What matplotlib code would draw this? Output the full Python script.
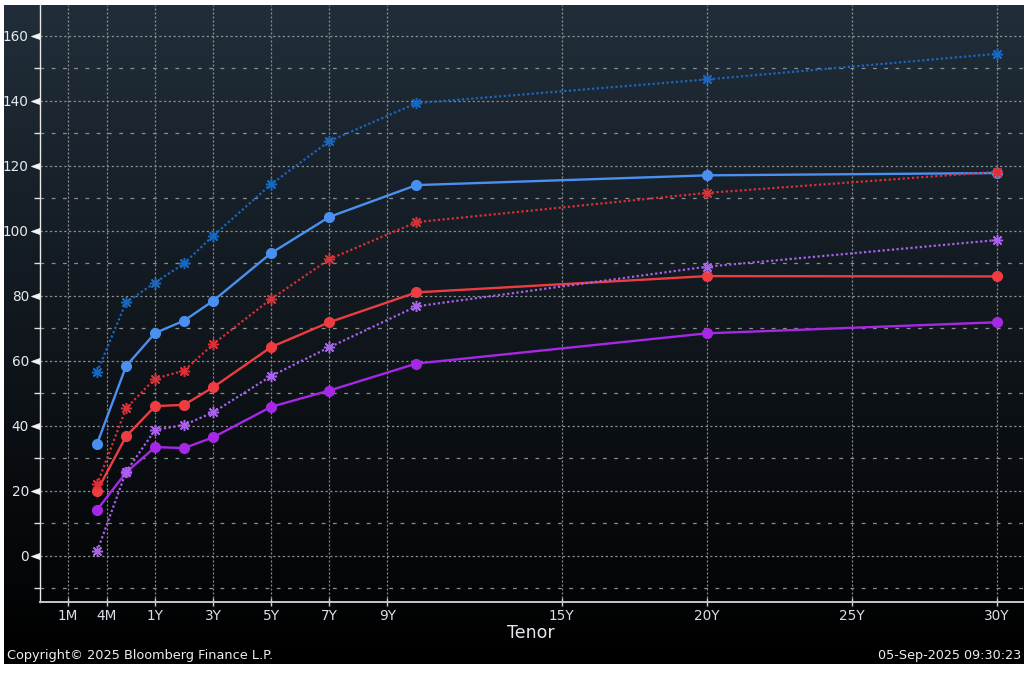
import numpy as np
import matplotlib
matplotlib.use('Agg')
import matplotlib.pyplot as plt
from matplotlib.path import Path

# ---------------- data ----------------
tenor_labels = ['3M', '6M', '1Y', '2Y', '3Y', '5Y', '7Y', '10Y', '20Y', '30Y']
tenor_years = [0.25, 0.5, 1, 2, 3, 5, 7, 10, 20, 30]

blue_dotted = [56.5, 77.9, 84.0, 89.9, 98.4, 114.3, 127.5, 139.2, 146.5, 154.4]
blue_solid = [34.4, 58.3, 68.5, 72.3, 78.4, 93.1, 104.2, 114.0, 117.0, 117.7]
red_dotted = [21.9, 45.3, 54.5, 56.9, 65.1, 79.0, 91.2, 102.6, 111.6, 118.1]
red_solid = [19.9, 36.7, 46.0, 46.4, 51.8, 64.2, 71.8, 81.0, 86.0, 85.9]
purple_dotted = [1.3, 25.8, 38.7, 40.2, 44.1, 55.3, 64.1, 76.7, 88.9, 97.1]
purple_solid = [14.1, 25.6, 33.4, 33.1, 36.4, 45.8, 50.8, 59.1, 68.4, 71.8]

xtick_labels = ['1M', '4M', '1Y', '3Y', '5Y', '7Y', '9Y', '15Y', '20Y', '25Y', '30Y']
xtick_years = [1 / 12, 1 / 3, 1, 3, 5, 7, 9, 15, 20, 25, 30]
ytick_values = list(range(0, 161, 20))
yminor_values = list(range(-10, 161, 20))

copyright_text = 'Copyright\u00a9 2025 Bloomberg Finance L.P.'
date_text = '05-Sep-2025 09:30:23'
x_title = 'Tenor'

# ---------------- tenor scale (Bloomberg style: short end stretched) ----------------
_T = np.array([-1 / 12, 1 / 12, 0.25, 0.5, 1.0, 60.0])
_U = np.array([-1.0, 0.0, 1.0, 2.0, 3.0, 62.0])


def fwd(t):
    return np.interp(np.asarray(t, dtype=float), _T, _U)


def inv(u):
    return np.interp(np.asarray(u, dtype=float), _U, _T)


W, H = 1024, 681
fig = plt.figure(figsize=(W / 100, H / 100), dpi=100, facecolor='white')
plt.rcParams['font.family'] = ['DejaVu Sans']

# background panel with vertical gradient
panel_l, panel_t, panel_r, panel_b = 4, 5, 1024, 664
bg = fig.add_axes([panel_l / W, 1 - panel_b / H, (panel_r - panel_l) / W, (panel_b - panel_t) / H])
n = 400
frac = np.linspace(0, 1, n)[:, None]
top = np.array([0x21, 0x2e, 0x3a]) / 255.0
grad = np.clip(top[None, :] * (1 - frac) ** 1.05, 0, 1)
grad = grad[:, None, :]
bg.imshow(grad, aspect='auto', extent=[0, 1, 0, 1], interpolation='bilinear')
bg.set_axis_off()

# main axes
ax_l, ax_t, ax_r, ax_b = 40, 5, 1024, 602
ax = fig.add_axes([ax_l / W, 1 - ax_b / H, (ax_r - ax_l) / W, (ax_b - ax_t) / H])
ax.set_facecolor('none')
ax.set_xscale('function', functions=(fwd, inv))
ax.set_xlim(float(inv(-0.965)), float(inv(32.93)))
ax.set_ylim(-14.25, 169.4)

# grid
gcol = '#8a8e92'
ax.set_xticks(xtick_years)
ax.set_xticklabels(xtick_labels)
ax.set_yticks(ytick_values)
ax.set_yticks(yminor_values, minor=True)
ax.xaxis.grid(True, which='major', color=gcol, linestyle=(0, (1.6, 1.6)), linewidth=0.9)
ax.yaxis.grid(True, which='major', color=gcol, linestyle=(0, (1.8, 2.0)), linewidth=0.9)
ax.yaxis.grid(True, which='minor', color=gcol, linestyle=(0, (3.0, 6.0)), linewidth=0.9)
ax.set_axisbelow(True)

# spines
for s in ['top', 'right']:
    ax.spines[s].set_visible(False)
ax.spines['left'].set_color('#e8e8e8')
ax.spines['left'].set_linewidth(1.0)
ax.spines['bottom'].set_color('#c8c8c8')
ax.spines['bottom'].set_linewidth(1.4)

ax.tick_params(axis='x', which='major', direction='inout', length=6, width=1.0,
               color='#d0d0d0', labelcolor='#d8e0ea', labelsize=9.8, pad=2)
ax.tick_params(axis='x', which='minor', length=0)
ax.tick_params(axis='y', which='major', direction='out', length=7, width=0.5,
               color='#f4f4f4', labelcolor='#e6eaee', labelsize=9.8, pad=1)
ax.tick_params(axis='y', which='minor', direction='out', length=4, width=1.0, color='#e0e0e0')
tri = Path([(0, -0.36), (0, 0.36), (-1, 0), (0, -0.36)],
           [Path.MOVETO, Path.LINETO, Path.LINETO, Path.CLOSEPOLY])
for t in ax.yaxis.get_major_ticks():
    t.tick1line.set_marker(tri)
    t.tick1line.set_markersize(13)

# series
solid_kw = dict(linestyle='-', linewidth=1.7, marker='o', markersize=7, zorder=3)
dot_kw = dict(linestyle=(0, (1, 1.1)), linewidth=1.6, marker=(8, 2, 0), markersize=8,
              markeredgewidth=1.1, zorder=4)

ax.plot(tenor_years, blue_solid, color='#4a90f0', **solid_kw)
ax.plot(tenor_years, red_solid, color='#ee3d42', **solid_kw)
ax.plot(tenor_years, purple_solid, color='#a628e6', **solid_kw)
ax.plot(tenor_years, blue_dotted, color='#1a67bf', **dot_kw)
ax.plot(tenor_years, red_dotted, color='#dc3036', **dot_kw)
ax.plot(tenor_years, purple_dotted, color='#a862ec', **dot_kw)

# texts
fig.text(531 / W, 1 - 633 / H, x_title, ha='center', va='center', fontsize=12.5, color='#e4e8ec')
fig.text(7 / W, 1 - 655 / H, copyright_text, ha='left', va='center', fontsize=9.3, color='#eeeeee')
fig.text(1021 / W, 1 - 655 / H, date_text, ha='right', va='center', fontsize=9.2, color='#eeeeee')

fig.savefig('out.png', dpi=100, facecolor='white')
